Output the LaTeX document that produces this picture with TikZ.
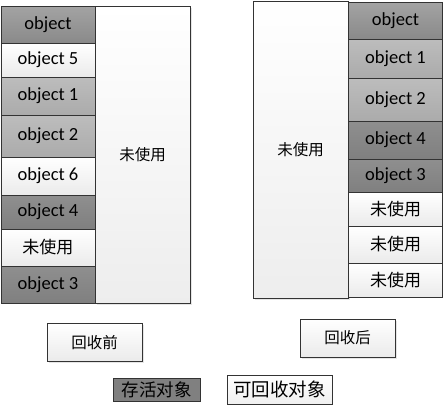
\documentclass[tikz,border=0pt]{standalone}
\usepackage{fontspec}
\setmainfont{Carlito}
\newfontfamily\cjk{Noto Sans CJK SC}
\usetikzlibrary{shadows}
\tikzset{
	cell/.style={draw=black!80, line width=0.8pt, minimum width=94pt, inner sep=0pt,
		font=\fontsize{18.5}{20}\selectfont},
	topcell/.style={cell, top color=black!36, bottom color=black!46},
	lightcell/.style={cell, top color=black!26, bottom color=black!33},
	darkcell/.style={cell, top color=black!44, bottom color=black!50},
	whitecell/.style={cell, top color=white, bottom color=black!8},
	freebox/.style={draw=black!80, line width=0.8pt, minimum width=95pt, inner sep=0pt,
		top color=white, bottom color=black!7, font=\cjk\fontsize{15.5}{18}\selectfont,
		drop shadow={shadow xshift=1.5pt, shadow yshift=-1.5pt, fill=black!20}},
	caption/.style={draw=black!80, line width=0.8pt, minimum width=95pt, minimum height=38pt,
		top color=white, bottom color=black!8, font=\cjk\fontsize{15.5}{18}\selectfont,
		drop shadow={shadow xshift=1.5pt, shadow yshift=-1.5pt, fill=black!20}}
}

\begin{document}
\begin{tikzpicture}[x=1pt, y=-1pt]
	\useasboundingbox (0,0) rectangle (445,407);

	% before collection
	\node[freebox, minimum height=297pt] (Lfree) at (142.5, 154.5) {未使用};
	\foreach \ya/\yb/\sty/\txt [count=\i] in {
		6/43/topcell/object, 43/77/whitecell/object 5, 77/115/lightcell/object 1,
		115/157/lightcell/object 2, 157/195/whitecell/object 6, 195/229/darkcell/object 4,
		229/266/whitecell/{\cjk\fontsize{17}{20}\selectfont 未使用}, 266/303/darkcell/object 3}
		\node[\sty, minimum height={(\yb-\ya)*1pt}] (L\i) at (48, {(\ya+\yb)/2}) {\txt};

	% after collection
	\node[freebox, minimum height=297pt] (Rfree) at (300.5, 149.5) {未使用};
	\foreach \ya/\yb/\sty/\txt [count=\i] in {
		2/39/topcell/object, 39/78/lightcell/object 1, 78/121/lightcell/object 2,
		121/159/darkcell/object 4, 159/192/darkcell/object 3,
		192/226/whitecell/{\cjk\fontsize{17}{20}\selectfont 未使用},
		226/263/whitecell/{\cjk\fontsize{17}{20}\selectfont 未使用},
		263/297/whitecell/{\cjk\fontsize{17}{20}\selectfont 未使用}}
		\node[\sty, minimum height={(\yb-\ya)*1pt}] (R\i) at (395.5, {(\ya+\yb)/2}) {\txt};

	\node[caption] (before) at (94.5, 342.5) {回收前};
	\node[caption] (after)  at (347.5, 338)  {回收后};

	% legend
	\node[draw=black!80, fill=black!50, minimum width=87pt, minimum height=23pt, inner sep=0pt,
		font=\cjk\fontsize{17.5}{20}\selectfont] (live) at (156.5, 389.5) {存活对象};
	\node[draw=black!80, top color=white, bottom color=black!6, minimum width=105pt, minimum height=29pt,
		inner sep=0pt, font=\cjk\fontsize{18.5}{21}\selectfont] (dead) at (279.5, 389.5) {可回收对象};
\end{tikzpicture}
\end{document}
